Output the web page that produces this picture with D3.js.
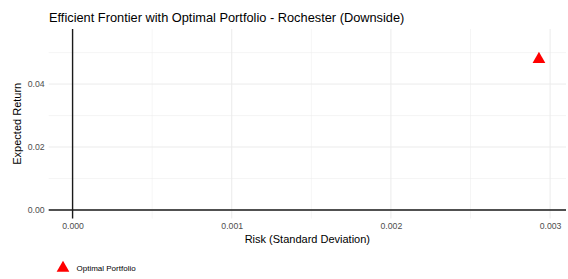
<!DOCTYPE html>
<html><head><meta charset="utf-8">
<script src="https://cdn.jsdelivr.net/npm/d3@7"></script>
<style>body{margin:0;background:#fff}svg{display:block}text{font-family:"Liberation Sans",Arial,sans-serif}</style>
</head><body><svg id="c" width="568" height="279"></svg>
<script>
const risk = [0.00293];
const ret = [0.0479];
const labels = ["Optimal Portfolio"];
const xTicks = [0, 0.001, 0.002, 0.003];
const xMinor = [0.0005, 0.0015, 0.0025];
const yTicks = [0, 0.02, 0.04];
const yMinor = [0.01, 0.03, 0.05];

const svg = d3.select("#c");
const L = 48.7, R = 566, T = 29, B = 218.5;
const x = d3.scaleLinear().domain([-0.00015, 0.0031]).range([L, R]);
const y = d3.scaleLinear().domain([-0.00271, 0.0575]).range([B, T]);

const g = svg.append("g");
// minor grid
g.selectAll(".xm").data(xMinor).join("line").attr("x1",d=>x(d)).attr("x2",d=>x(d)).attr("y1",T).attr("y2",B).attr("stroke","#ebebeb").attr("stroke-width",0.5);
g.selectAll(".ym").data(yMinor).join("line").attr("y1",d=>y(d)).attr("y2",d=>y(d)).attr("x1",L).attr("x2",R).attr("stroke","#ebebeb").attr("stroke-width",0.5);
// major grid
g.selectAll(".xg").data(xTicks).join("line").attr("x1",d=>x(d)).attr("x2",d=>x(d)).attr("y1",T).attr("y2",B).attr("stroke","#ebebeb").attr("stroke-width",1);
g.selectAll(".yg").data(yTicks).join("line").attr("y1",d=>y(d)).attr("y2",d=>y(d)).attr("x1",L).attr("x2",R).attr("stroke","#ebebeb").attr("stroke-width",1);

// zero lines
g.append("line").attr("x1",L).attr("x2",R).attr("y1",y(0)).attr("y2",y(0)).attr("stroke","#1a1a1a").attr("stroke-width",1.4);
g.append("line").attr("x1",x(0)).attr("x2",x(0)).attr("y1",T).attr("y2",B).attr("stroke","#1a1a1a").attr("stroke-width",1.4);

// axes labels
const xa = d3.axisBottom(x).tickValues(xTicks).tickFormat(d3.format(".3f")).tickSize(0).tickPadding(4);
svg.append("g").attr("transform",`translate(0,${B})`).call(xa).call(s=>{s.select(".domain").remove();s.selectAll("text").attr("fill","#4d4d4d").style("font-size","8.7px");});
const ya = d3.axisLeft(y).tickValues(yTicks).tickFormat(d3.format(".2f")).tickSize(0).tickPadding(4);
svg.append("g").attr("transform",`translate(${L},0)`).call(ya).call(s=>{s.select(".domain").remove();s.selectAll("text").attr("fill","#4d4d4d").style("font-size","8.7px");});

// point
const tri = d3.symbol().type(d3.symbolTriangle).size(70);
svg.selectAll(".pt").data(risk).join("path").attr("d",tri).attr("transform",(d,i)=>`translate(${x(d)},${y(ret[i])})`).attr("fill","#ff0000");

// titles
svg.append("text").attr("x",49).attr("y",22).text("Efficient Frontier with Optimal Portfolio - Rochester (Downside)").style("font-size","12.8px").attr("fill","#000");
svg.append("text").attr("x",(L+R)/2).attr("y",243).attr("text-anchor","middle").text("Risk (Standard Deviation)").style("font-size","11px");
svg.append("text").attr("transform",`translate(21,${(T+B)/2}) rotate(-90)`).attr("text-anchor","middle").text("Expected Return").style("font-size","11px");

// legend
const lg = svg.append("g").attr("transform","translate(63,268)");
lg.selectAll("path").data(labels).join("path").attr("d",tri).attr("fill","#ff0000");
lg.selectAll("text").data(labels).join("text").attr("x",13.5).attr("y",3).text(d=>d).style("font-size","8px").attr("fill","#000");
</script></body></html>
